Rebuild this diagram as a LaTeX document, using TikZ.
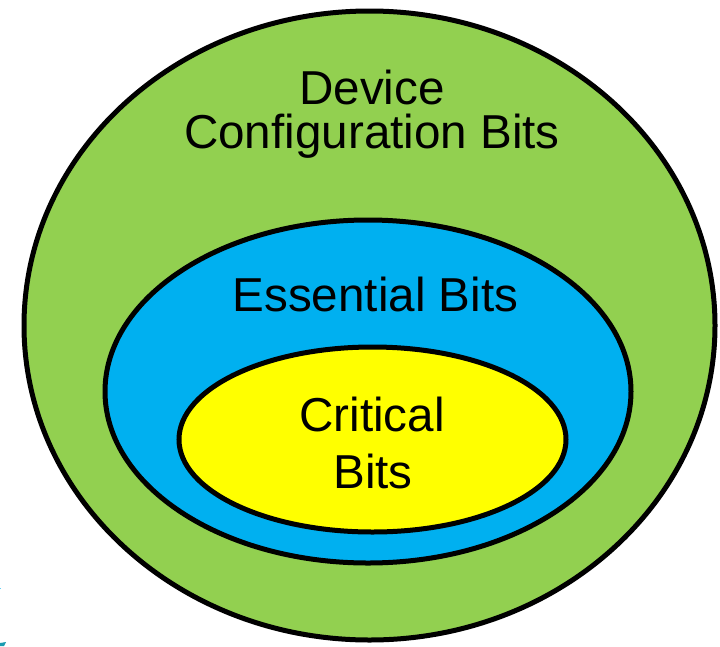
\documentclass[tikz,border=0pt]{standalone}
\usepackage{fontspec}
\setmainfont{Liberation Sans}
\definecolor{devgreen}{HTML}{92D050}
\definecolor{essblue}{HTML}{00B0F0}
\definecolor{crityellow}{HTML}{FFFF00}
\definecolor{edgeteal}{HTML}{1A9BB0}
\begin{document}
\begin{tikzpicture}[x=1pt,y=-1pt,
  ring/.style={draw=black, line width=5pt},
  lbl/.style={anchor=base, inner sep=0pt, font=\fontsize{47.6}{45}\selectfont, text=black}]
\useasboundingbox (0,0) rectangle (720,646);
% nested sets of configuration bits
\draw[ring, fill=devgreen]   (369.5,325.5) ellipse [x radius=345.5, y radius=314.5];
\draw[ring, fill=essblue]    (368,391.5)   ellipse [x radius=263,   y radius=171.5];
\draw[ring, fill=crityellow] (372.5,439.5) ellipse [x radius=193.5, y radius=92.5];
% labels
\node[lbl] (dev1) at (372,104) {Device};
\node[lbl] (dev2) at (372,148) {Configuration Bits};
\node[lbl] (ess)  at (375.5,311) {Essential Bits};
\node[lbl] (crit1) at (372,431) {Critical};
\node[lbl] (crit2) at (373,488) {Bits};
% small marks at the lower left edge
\fill[edgeteal] (0,646) -- (0,643) -- (6,642) -- (4,646) -- cycle;
\fill[essblue!60] (0,587.5) rectangle (1.2,589);
\end{tikzpicture}
\end{document}
